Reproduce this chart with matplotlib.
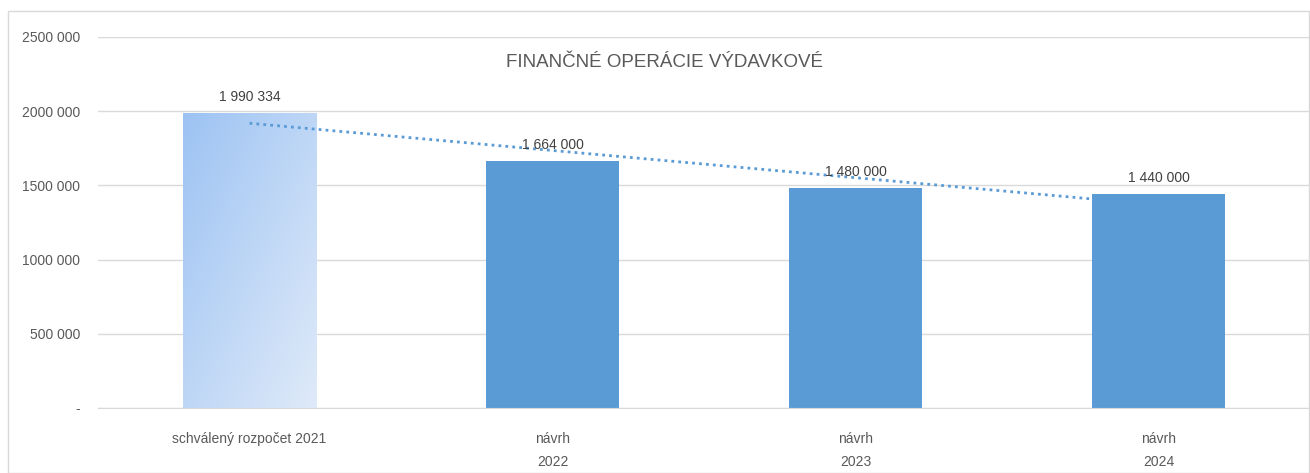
import matplotlib.pyplot as plt
import numpy as np
from matplotlib.patches import Rectangle

categories = ['schválený rozpočet 2021', 'návrh\n2022', 'návrh\n2023', 'návrh\n2024']
values = [1990334, 1664000, 1480000, 1440000]
value_labels = ['1 990 334', '1 664 000', '1 480 000', '1 440 000']
yticks = [0, 500000, 1000000, 1500000, 2000000, 2500000]
ytick_labels = ['-', '500 000', '1000 000', '1500 000', '2000 000', '2500 000']
title = 'FINANČNÉ OPERÁCIE VÝDAVKOVÉ'

plt.rcParams['font.family'] = ['Liberation Sans', 'DejaVu Sans']
grey = '#595959'
blue = '#5B9BD5'

fig = plt.figure(figsize=(13.1, 4.73), dpi=100)
ax = fig.add_axes([98 / 1310, 1 - 408 / 473, 1 - 98 / 1310, (408 - 37) / 473])

# outer chart border
fig.patches.append(Rectangle((8 / 1310, 0), 1 - 8 / 1310 - 0.001, 1 - 11 / 473,
                             transform=fig.transFigure, fill=False,
                             edgecolor='#d9d9d9', linewidth=1))

x = np.arange(len(categories))
width = 0.44
bars = ax.bar(x, values, width, color=blue, zorder=2)

# first bar: gradient fill, darker at top-left
b0 = bars[0]
b0.set_facecolor('none')
gx, gy = np.meshgrid(np.linspace(0, 1, 100), np.linspace(0, 1, 100))
t = (gx + gy) / 2
c0 = np.array([0x9d, 0xc3, 0xf3]) / 255
c1 = np.array([0xdf, 0xea, 0xf9]) / 255
img = c0[None, None, :] * (1 - t[..., None]) + c1[None, None, :] * t[..., None]
x0 = b0.get_x()
im = ax.imshow(img, extent=[x0, x0 + width, 0, values[0]], origin='upper',
               aspect='auto', zorder=2)
im.set_clip_path(b0)

# linear trendline
k, q = np.polyfit(x, values, 1)
ax.plot(x, k * x + q, linestyle=(0, (1, 1.5)), color=blue, linewidth=2, zorder=3)

for xi, v, lab in zip(x, values, value_labels):
    ax.text(xi, v + 60000, lab, ha='center', va='bottom', fontsize=10, color='#404040', zorder=4)

ax.set_xlim(-0.5, len(categories) - 0.5)
ax.set_ylim(0, 2500000)
ax.set_yticks(yticks)
ax.set_yticklabels(ytick_labels, fontsize=10, color=grey)
ax.set_xticks(x)
ax.set_xticklabels(categories, fontsize=10, color=grey, linespacing=1.85)
ax.tick_params(axis='both', length=0)
ax.tick_params(axis='y', pad=13)
ax.tick_params(axis='x', pad=17)
ax.grid(axis='y', color='#d9d9d9', linewidth=1, zorder=0)
for s in ['top', 'right', 'left']:
    ax.spines[s].set_visible(False)
ax.spines['bottom'].set_color('#d9d9d9')
ax.set_axisbelow(True)

ax.text(0.467, 0.93, title, transform=ax.transAxes, ha='center', va='center',
        fontsize=13.5, color=grey)

fig.savefig('out.png', dpi=100)
